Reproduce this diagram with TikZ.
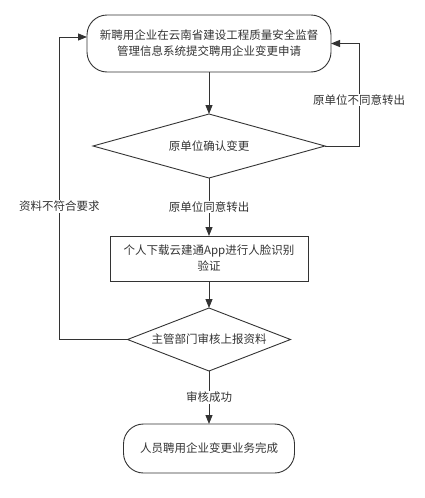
\documentclass[tikz,border=0pt]{standalone}
\usepackage{fontspec}
\newfontfamily\cjk{Noto Sans CJK SC}
\usetikzlibrary{arrows.meta,positioning,shapes.geometric}
\definecolor{ink}{HTML}{333333}

\begin{document}
\begin{tikzpicture}[
  x=1pt, y=1pt,
  txt/.style={font=\cjk\fontsize{11.5}{16}\selectfont, text=ink},
  term/.style={txt, draw=ink, line width=0.9pt, rounded corners=20pt,
               align=center, outer sep=0pt, inner sep=2pt},
  proc/.style={txt, draw=ink, line width=0.9pt, align=center,
               outer sep=0pt, inner sep=2pt},
  decide/.style={txt, draw=ink, line width=0.9pt, diamond, aspect=3.6,
                 inner sep=1pt, outer sep=0pt},
  flow/.style={draw=ink, line width=0.9pt, -{Triangle[length=9pt,width=7pt]}},
  lbl/.style={txt, fill=white, inner sep=1pt},
  node distance=42pt
]
\useasboundingbox (0,0) rectangle (425,-498);

%% main column
\node[term, minimum width=244pt, minimum height=57pt] (apply) at (209,-43.5)
  {新聘用企业在云南省建设工程质量安全监督\\管理信息系统提交聘用企业变更申请};
\node[decide, minimum width=232pt, minimum height=64pt, below=42pt of apply] (confirm)
  {原单位确认变更};
\node[proc, minimum width=198pt, minimum height=45pt, below=58pt of confirm] (face)
  {个人下载云建通App进行人脸识别\\验证};
\node[decide, minimum width=163pt, minimum height=63pt, below=27pt of face] (review)
  {主管部门审核上报资料};
\node[term, minimum width=171pt, minimum height=49pt, below=53pt of review] (done)
  {人员聘用企业变更业务完成};

\draw[flow] (apply) -- (confirm);
\draw[flow] (confirm) -- node[lbl]{原单位同意转出} (face);
\draw[flow] (face) -- (review);
\draw[flow] (review) -- node[lbl]{审核成功} (done);

%% loops back
\coordinate[right=34pt of confirm.east] (rx);
\coordinate[left=68pt of review.west] (lx);
\draw[flow] (confirm.east) -- (rx) |- node[lbl, pos=0.225]{原单位不同意转出} (apply.east);
\draw[flow] (review.west) -- (lx) |- node[lbl, pos=0.22]{资料不符合要求} ([yshift=6.5pt]apply.west);

\end{tikzpicture}
\end{document}
